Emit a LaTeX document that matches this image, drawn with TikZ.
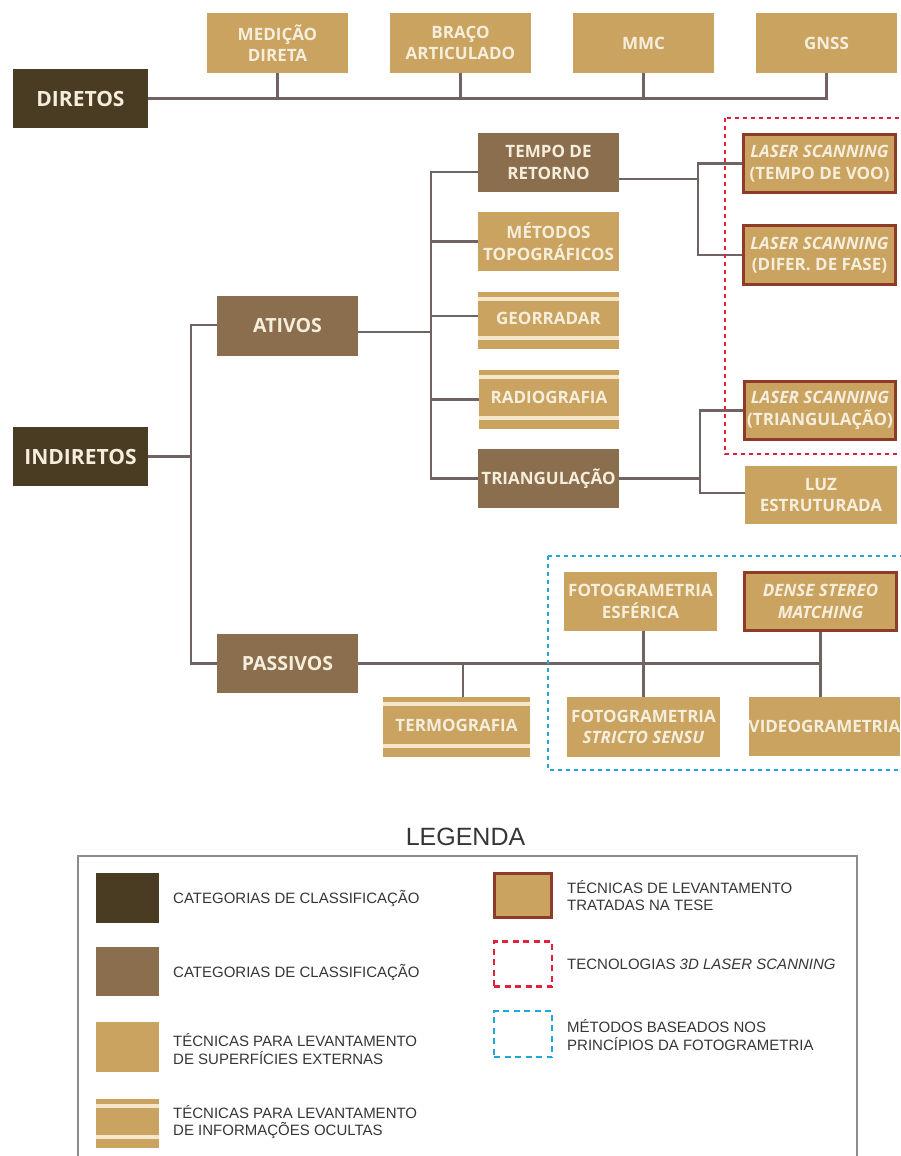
\documentclass[tikz,border=0pt]{standalone}
\usepackage{fontspec}
\setmainfont{Liberation Sans}
\newfontfamily\boxfont{Open Sans}
\definecolor{cdark}{HTML}{4A3B23}
\definecolor{cmed}{HTML}{8B6E4D}
\definecolor{ctan}{HTML}{C9A35F}
\definecolor{cream}{HTML}{F6EEDD}
\definecolor{cstripe}{HTML}{F4E7CC}
\definecolor{cline}{HTML}{6F6364}
\definecolor{cborder}{HTML}{8E3B27}
\definecolor{cred}{HTML}{E2203A}
\definecolor{cblue}{HTML}{1FA7D9}
\definecolor{legtext}{HTML}{363636}
\definecolor{legframe}{HTML}{8C8C8C}
\begin{document}
\begin{tikzpicture}[x=1pt,y=-1pt,
  base/.style={rectangle, inner sep=0pt, align=center, text=cream,
    font=\boxfont\bfseries\fontsize{17}{21.5}\selectfont},
  catdark/.style={base, fill=cdark, minimum width=135pt, minimum height=59pt,
    font=\boxfont\bfseries\fontsize{21}{25}\selectfont},
  catmed/.style={base, fill=cmed, minimum width=141pt, minimum height=60pt,
    font=\boxfont\bfseries\fontsize{19.5}{24}\selectfont},
  medbox/.style={base, fill=cmed, minimum width=141pt, minimum height=59pt},
  tech/.style={base, fill=ctan},
  hidden/.style={tech, path picture={
      \fill[cstripe] ([yshift=-5pt]path picture bounding box.north west) rectangle ([yshift=-9pt]path picture bounding box.north east);
      \fill[cstripe] ([yshift=9pt]path picture bounding box.south west) rectangle ([yshift=13pt]path picture bounding box.south east);}},
  thesis/.style={tech, draw=cborder, line width=3pt},
  conn/.style={draw=cline, line width=2.6pt},
  reddash/.style={draw=cred, line width=1.8pt, dash pattern=on 4pt off 4pt},
  bluedash/.style={draw=cblue, line width=1.8pt, dash pattern=on 4pt off 4pt},
  legtxt/.style={anchor=west, inner sep=0pt, align=left, text=legtext,
    font=\fontsize{15}{17.5}\selectfont},
  swatch/.style={inner sep=0pt, minimum width=63pt, minimum height=50pt}
]
\useasboundingbox (0,0) rectangle (901,1156);

% ---------- direct methods ----------
\node[catdark] (dir) at (80.5,98.5) {DIRETOS};
\node[tech, minimum width=141pt, minimum height=60pt] (med) at (277.5,43) {MEDIÇÃO\\DIRETA};
\node[tech, minimum width=141pt, minimum height=60pt] (bra) at (460.5,43) {BRAÇO\\ARTICULADO};
\node[tech, minimum width=141pt, minimum height=60pt] (mmc) at (643.5,43) {MMC};
\node[tech, minimum width=141pt, minimum height=60pt] (gnss) at (826.5,43) {GNSS};

% ---------- indirect methods ----------
\node[catdark] (ind) at (80.5,456.5) {INDIRETOS};
\node[catmed] (ati) at (287.5,326) {ATIVOS};
\node[catmed, minimum height=59pt] (pas) at (287.5,663.5) {PASSIVOS};

\node[medbox] (tem) at (548.5,162.5) {TEMPO DE\\RETORNO};
\node[tech, minimum width=141pt, minimum height=59pt] (met) at (548.5,241.5) {MÉTODOS\\TOPOGRÁFICOS};
\node[hidden, minimum width=141pt, minimum height=57pt] (geo) at (548.5,320.5) {\raisebox{3.5pt}{GEORRADAR}};
\node[hidden, minimum width=140pt, minimum height=59pt] (rad) at (549,399.5) {\raisebox{3.5pt}{RADIOGRAFIA}};
\node[medbox] (tri) at (548.5,478.5) {TRIANGULAÇÃO};

\node[thesis, minimum width=152pt, minimum height=58pt] (lst) at (819.5,163.5) {\textit{LASER SCANNING}\\(TEMPO DE VOO)};
\node[thesis, minimum width=152pt, minimum height=59pt] (lsf) at (819.5,255) {\textit{LASER SCANNING}\\(DIFER. DE FASE)};
\node[thesis, minimum width=151pt, minimum height=58pt] (lsr) at (820,410.5) {\textit{LASER SCANNING}\\(TRIANGULAÇÃO)};
\node[tech, minimum width=152pt, minimum height=58pt] (luz) at (821,495) {LUZ\\ESTRUTURADA};

\node[hidden, minimum width=147pt, minimum height=60pt] (ter) at (456.5,727) {\raisebox{3.5pt}{TERMOGRAFIA}};
\node[tech, minimum width=153pt, minimum height=59pt] (esf) at (640.5,601.5) {FOTOGRAMETRIA\\ESFÉRICA};
\node[tech, minimum width=153pt, minimum height=60pt] (ss) at (643.5,727) {FOTOGRAMETRIA\\\textit{STRICTO SENSU}};
\node[thesis, minimum width=152pt, minimum height=58pt] (den) at (820.5,601.5) {\textit{DENSE STEREO}\\\textit{MATCHING}};
\node[tech, minimum width=147pt, minimum height=59pt] (vid) at (824.5,726.5) {VIDEOGRAMETRIA};

% ---------- connectors ----------
\draw[conn] (dir.east) -- (gnss.south |- dir.east) -- (gnss.south);
\foreach \n in {med,bra,mmc} \draw[conn] (\n.south) -- (\n.south |- dir.east);

\coordinate (ti) at (191,456.5);
\draw[conn] (ind.east) -- (ti);
\draw[conn] ([yshift=1pt]ati.west) -| (ti) |- (pas.west);

\coordinate (ta) at (431,332);
\draw[conn] ([yshift=-6pt]ati.east) -- (ta);
\draw[conn] ([yshift=-9.5pt]tem.west) -| (ta) |- (tri.west);
\draw[conn] (ta |- met.west) -- (met.west);
\draw[conn] (ta |- geo.west) ++(0,-4.5) -- ([yshift=4.5pt]geo.west);
\draw[conn] (ta |- rad.west) -- (rad.west);

\coordinate (tt) at (698,179);
\draw[conn] ([yshift=-16.5pt]tem.east) -- (tt);
\draw[conn] (lst.west) -| (tt) |- (lsf.west);

\coordinate (tr) at (700,478.5);
\draw[conn] (tri.east) -- (tr);
\draw[conn] (lsr.west) -| (tr) |- ([yshift=2pt]luz.west);

\coordinate (tp) at (821,663.5);
\draw[conn] (pas.east) -- (tp);
\coordinate (tj) at (463,663.5);
\draw[conn] (tj) -- (tj |- ter.north);
\draw[conn] (ss.north |- esf.south) -- (ss.north);
\draw[conn] (den.south) -- (den.south |- vid.north);

% ---------- grouping frames ----------
\draw[reddash] (725,118) rectangle (912,454);
\draw[bluedash] (548,556) rectangle (912,770);

% ---------- legend ----------
\node[inner sep=0pt, text=legtext, font=\fontsize{25}{29}\selectfont] (legt) at (465.5,836.5) {LEGENDA};
\draw[legframe, line width=1.3pt] (78,1175) -- (78,856) -- (857,856) -- (857,1175);

\node[swatch, fill=cdark] (l1) at (127.5,898) {};
\node[legtxt] (l1t) at (173,898) {CATEGORIAS DE CLASSIFICAÇÃO};
\node[swatch, fill=cmed, minimum height=49pt] (l2) at (127.5,971.5) {};
\node[legtxt] (l2t) at (173,972) {CATEGORIAS DE CLASSIFICAÇÃO};
\node[swatch, fill=ctan] (l3) at (127.5,1047) {};
\node[legtxt] (l3t) at (173,1049) {TÉCNICAS PARA LEVANTAMENTO\\DE SUPERFÍCIES EXTERNAS};
\node[hidden, minimum width=63pt, minimum height=49pt] (l4) at (127.5,1123.5) {};
\node[legtxt] (l4t) at (173,1122) {TÉCNICAS PARA LEVANTAMENTO\\DE INFORMAÇÕES OCULTAS};

\node[thesis, minimum width=57pt, minimum height=44pt] (r1) at (523,895.5) {};
\node[legtxt] (r1t) at (567,895.5) {TÉCNICAS DE LEVANTAMENTO\\TRATADAS NA TESE};
\node[draw=cred, line width=2.2pt, dash pattern=on 6pt off 4.5pt, inner sep=0pt, minimum width=58pt, minimum height=45pt] (r2) at (523,964) {};
\node[legtxt] (r2t) at (567,964) {TECNOLOGIAS \textit{3D LASER SCANNING}};
\node[draw=cblue, line width=2.2pt, dash pattern=on 6pt off 4.5pt, inner sep=0pt, minimum width=58pt, minimum height=46pt] (r3) at (523,1034) {};
\node[legtxt] (r3t) at (567,1035) {MÉTODOS BASEADOS NOS\\PRINCÍPIOS DA FOTOGRAMETRIA};
\end{tikzpicture}
\end{document}
